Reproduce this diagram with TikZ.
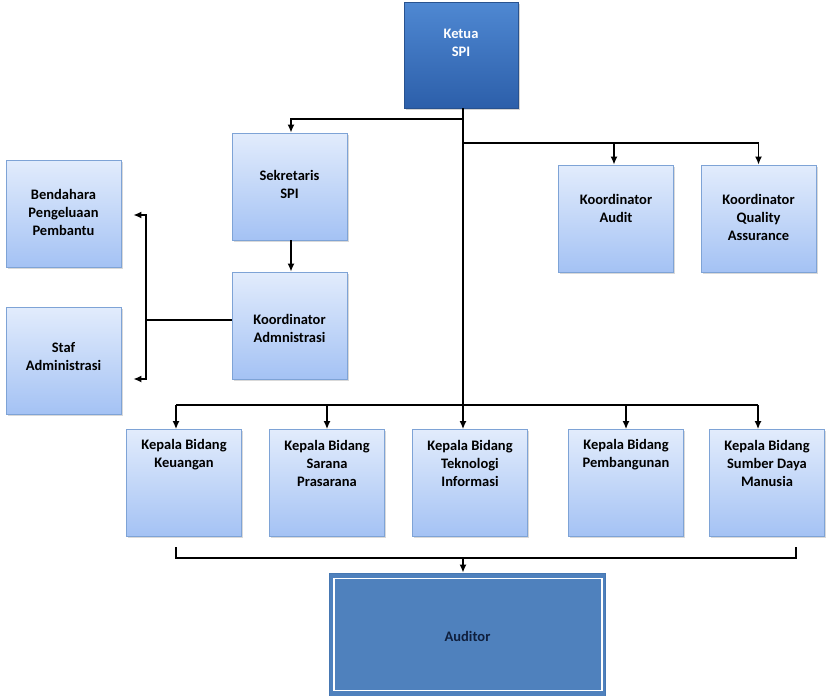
\documentclass[tikz,border=0pt]{standalone}
\usepackage{fontspec}
\setmainfont{Carlito}
\usetikzlibrary{arrows.meta,shadows}
\definecolor{lightTop}{HTML}{E2ECFC}
\definecolor{lightBot}{HTML}{A4C2F4}
\definecolor{lightEdge}{HTML}{7EA3D6}
\definecolor{darkTop}{HTML}{4F88D2}
\definecolor{darkBot}{HTML}{2C5FAA}
\definecolor{darkEdge}{HTML}{28528F}
\definecolor{audFill}{HTML}{4F81BD}
\definecolor{audEdge}{HTML}{4677B2}
\definecolor{audText}{HTML}{0F1F3D}
\begin{document}
\begin{tikzpicture}[x=1pt,y=-1pt,
  lbox/.style={rectangle, draw=lightEdge, line width=0.7pt, top color=lightTop, bottom color=lightBot,
    minimum width=115pt, minimum height=107pt, inner sep=0pt,
    drop shadow={opacity=0.3, shadow xshift=1.5pt, shadow yshift=-1.5pt}},
  dbox/.style={rectangle, draw=darkEdge, line width=0.7pt, top color=darkTop, bottom color=darkBot,
    minimum width=114pt, minimum height=106pt, inner sep=0pt,
    drop shadow={opacity=0.35, shadow xshift=2pt, shadow yshift=-2pt}},
  abox/.style={rectangle, draw=audEdge, line width=0.7pt, fill=audFill,
    minimum width=276pt, minimum height=123pt, inner sep=0pt},
  txt/.style={font=\bfseries\fontsize{14.5}{18}\selectfont, align=center, inner sep=0pt, text=black},
  wire/.style={draw=black, line width=1.6pt},
  arr/.style={wire, -{Latex[length=8pt,width=7pt]}}
]
\useasboundingbox (0,0) rectangle (830,696);

% boxes
\node[dbox] (ketua) at (461,55) {};
\node[lbox] (sek) at (289.5,186.5) {};
\node[lbox] (bend) at (63.5,213.5) {};
\node[lbox] (staf) at (63.5,360.5) {};
\node[lbox] (kadm) at (289.5,325.5) {};
\node[lbox] (kaud) at (616,218.5) {};
\node[lbox] (kqa) at (758.5,218.5) {};
\node[lbox] (kb1) at (184,483) {};
\node[lbox] (kb2) at (327,483) {};
\node[lbox] (kb3) at (470,483) {};
\node[lbox] (kb4) at (626,483) {};
\node[lbox] (kb5) at (767,483) {};
\node[abox] (aud) at (467.5,634.5) {};
\draw[white, line width=1.5pt] ([shift={(5,6)}]aud.north west) rectangle ([shift={(-4,-6)}]aud.south east);

% texts
\node[txt, text=white] (tketua) at (461,43) {Ketua\\SPI};
\node[txt] (tsek) at (289.5,184) {Sekretaris\\SPI};
\node[txt] (tbend) at (63.5,212) {Bendahara\\Pengeluaan\\Pembantu};
\node[txt] (tstaf) at (63.5,357) {Staf\\Administrasi};
\node[txt] (tkadm) at (289.5,328) {Koordinator\\Admnistrasi};
\node[txt] (tkaud) at (616,208) {Koordinator\\Audit};
\node[txt] (tkqa) at (758.5,217) {Koordinator\\Quality\\Assurance};
\node[txt] (tkb1) at (184,455) {Kepala Bidang\\Keuangan};
\node[txt] (tkb2) at (327,463) {Kepala Bidang\\Sarana\\Prasarana};
\node[txt] (tkb3) at (470,463) {Kepala Bidang\\Teknologi\\Informasi};
\node[txt] (tkb4) at (626,455) {Kepala Bidang\\Pembangunan};
\node[txt] (tkb5) at (767,463) {Kepala Bidang\\Sumber Daya\\Manusia};
\node[txt, text=audText] (taud) at (467.5,636) {Auditor};

% junctions
\coordinate (ja) at (463,119);
\coordinate (jb) at (463,143);
\coordinate (jd) at (146,320);
\coordinate (bt) at (146,215);
\coordinate (bb) at (146,379);
\coordinate (kl) at (176,405);
\coordinate (kr) at (758,405);
\coordinate (blt) at (176,547);
\coordinate (bl) at (176,558);
\coordinate (br) at (796,558);
\coordinate (brt) at (796,547);
\coordinate (jbot) at (463,558);

% connectors
\draw[arr] (ketua.south -| ja) -- (ja) -| ([xshift=1.5pt]sek.north);
\draw[arr] (ketua.south -| ja) -- (kb3.north -| ja);
\draw[arr] (jb) -| ([xshift=-2pt]kaud.north);
\draw[arr] (jb) -| (kqa.north);
\draw[arr] ([xshift=1.5pt]sek.south) -- ([xshift=1.5pt]kadm.north);
\draw[wire] (kadm.west |- jd) -- (jd);
\draw[arr] (jd) -- (bt) -- ([xshift=12pt]bend.east |- bt);
\draw[arr] (jd) -- (bb) -- ([xshift=12pt]staf.east |- bb);
\draw[wire] (kl) -- (kr);
\draw[arr] (kl) -- (kb1.north -| kl);
\draw[arr] (kb2.north |- kl) -- (kb2.north);
\draw[arr] (kb4.north |- kl) -- (kb4.north);
\draw[arr] (kr) -- (kb5.north -| kr);
\draw[wire] (blt) -- (bl) -- (br) -- (brt);
\draw[arr] (jbot) -- (aud.north -| jbot);
\end{tikzpicture}
\end{document}
